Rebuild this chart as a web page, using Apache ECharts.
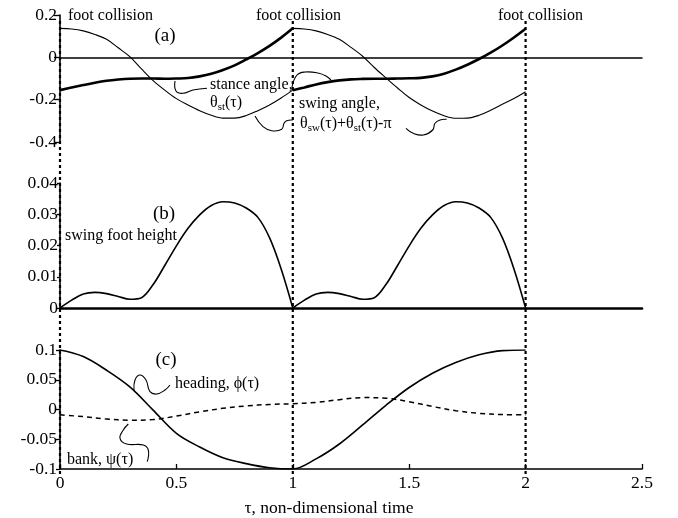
<!DOCTYPE html>
<html>
<head>
<meta charset="utf-8">
<script src="https://cdn.jsdelivr.net/npm/echarts@6/dist/echarts.min.js"></script>
<style>html,body{margin:0;padding:0;background:#fff}#c{width:678px;height:518px}</style>
</head>
<body>
<div id="c"></div>
<script>
// ---- data ----
const tau1 = [0,0.05,0.1,0.15,0.2,0.25,0.3,0.35,0.4,0.45,0.5,0.55,0.6,0.65,0.7,0.75,0.8,0.85,0.9,0.95,1.0];
const tau2 = [1,1.05,1.1,1.15,1.2,1.25,1.3,1.35,1.4,1.45,1.5,1.55,1.6,1.65,1.7,1.75,1.8,1.85,1.9,1.95,2.0];
// (a) stance angle (thick) and swing angle (thin), one array per step
const stance1 = [-0.155,-0.143,-0.131,-0.12,-0.111,-0.105,-0.101,-0.1,-0.1,-0.101,-0.1,-0.098,-0.09,-0.078,-0.06,-0.038,-0.01,0.02,0.054,0.093,0.137];
const stance2 = [-0.155,-0.142,-0.128,-0.117,-0.109,-0.104,-0.102,-0.101,-0.101,-0.1,-0.099,-0.097,-0.09,-0.077,-0.058,-0.035,-0.008,0.022,0.056,0.094,0.135];
const swing1  = [0.137,0.134,0.125,0.108,0.085,0.045,0.003,-0.055,-0.11,-0.155,-0.195,-0.225,-0.252,-0.274,-0.287,-0.287,-0.275,-0.252,-0.225,-0.192,-0.155];
const swing2  = [0.137,0.134,0.125,0.108,0.085,0.047,0.005,-0.048,-0.097,-0.145,-0.19,-0.225,-0.254,-0.276,-0.288,-0.287,-0.274,-0.25,-0.222,-0.195,-0.163];
// (b) swing foot height
const foot1 = [0,0.0025,0.0045,0.005,0.0046,0.0037,0.0028,0.0033,0.0075,0.0136,0.0199,0.0255,0.0298,0.0328,0.034,0.0336,0.032,0.029,0.0225,0.0125,0];
const foot2 = [0,0.0025,0.0045,0.005,0.0046,0.0037,0.0028,0.0033,0.0075,0.0136,0.0199,0.0255,0.0298,0.0328,0.034,0.0336,0.032,0.029,0.0225,0.0125,0];
// (c) heading and bank
const tauC = [0,0.1,0.2,0.3,0.4,0.5,0.6,0.7,0.8,0.9,1.0,1.1,1.2,1.3,1.4,1.5,1.6,1.7,1.8,1.9,2.0];
const heading = [0.1,0.089,0.066,0.038,-0.001,-0.04,-0.063,-0.081,-0.091,-0.098,-0.1,-0.083,-0.058,-0.026,0.007,0.037,0.061,0.079,0.092,0.099,0.1];
const bank = [-0.009,-0.012,-0.016,-0.018,-0.017,-0.011,-0.004,0.002,0.006,0.0085,0.0097,0.012,0.0165,0.02,0.019,0.013,0.005,-0.002,-0.0065,-0.0085,-0.009];
// foot collisions
const collisions = [0,1,2];
const collisionLabel = 'foot collision';
// tick labels
const xTicks = [0,0.5,1,1.5,2,2.5];
const yTicksA = [-0.4,-0.2,0,0.2];
const yTicksB = [0,0.01,0.02,0.03,0.04];
const yTicksC = [-0.1,-0.05,0,0.05,0.1];

const zip = (xs, ys) => xs.map((x,i)=>[x, ys[i]]);
const FF = '"Liberation Serif", "Times New Roman", serif';
const black = '#000';
const TICK_FS = 17.5;

const chart = echarts.init(document.getElementById('c'), null, {renderer:'canvas'});

const hiddenX = (gi, extra) => Object.assign({
  type:'value', gridIndex:gi, min:xTicks[0], max:xTicks[xTicks.length-1], interval:0.5,
  axisLabel:{show:false}, axisTick:{show:false}, splitLine:{show:false},
  axisLine:{show:false}
}, extra||{});
const fmtNum = v => (Math.round(v*1000)/1000).toString();
const yAx = (gi, ticks, tickLen, margin) => ({
  type:'value', gridIndex:gi, min:ticks[0], max:ticks[ticks.length-1], interval:ticks[1]-ticks[0],
  z:5,
  splitLine:{show:false},
  axisLine:{show:true, onZero:false, lineStyle:{color:black, width:1.6}},
  axisTick:{show:true, length:tickLen, lineStyle:{color:black, width:1.3}},
  axisLabel:{color:black, fontFamily:FF, fontSize:TICK_FS, margin:margin, formatter:fmtNum}
});

const lineSer = (name, xi, yi, data, width, type, z) => ({
  name, type:'line', xAxisIndex:xi, yAxisIndex:yi, data,
  showSymbol:false, symbol:'none', smooth:0.35, silent:true, z:z||3,
  lineStyle:{color:black, width:width, type:type||'solid'}
});

const option = {
  animation:false,
  backgroundColor:'#fff',
  grid:[
    {left:60, top:15, width:582, height:127},
    {left:60, top:183, width:582, height:125},
    {left:60, top:350, width:582, height:124},
    {left:60, top:18, width:582, height:456}
  ],
  xAxis:[
    hiddenX(0, {axisLine:{show:true, onZero:true, lineStyle:{color:black, width:1.5}}, z:4}),
    hiddenX(1, {axisLine:{show:true, onZero:false, lineStyle:{color:black, width:2.6}}, z:4}),
    {
      type:'value', gridIndex:2, min:xTicks[0], max:xTicks[xTicks.length-1], interval:0.5, z:4,
      splitLine:{show:false},
      axisLine:{show:true, onZero:false, lineStyle:{color:black, width:1.6}},
      axisTick:{show:true, inside:true, length:5, lineStyle:{color:black, width:1.3}},
      axisLabel:{color:black, fontFamily:FF, fontSize:TICK_FS, margin:5, formatter:fmtNum},
      name:'τ, non-dimensional time', nameLocation:'middle', nameGap:30,
      nameTextStyle:{color:black, fontFamily:FF, fontSize:17.5, padding:[0,44,0,0]}
    },
    hiddenX(3)
  ],
  yAxis:[
    yAx(0, yTicksA, 6, 3),
    yAx(1, yTicksB, 3, 2),
    yAx(2, yTicksC, 4, 3),
    {type:'value', gridIndex:3, min:0, max:1, show:false}
  ],
  series:[
    // collision markers (dotted verticals)
    ...collisions.map((t,i)=>({
      name:'collision '+t, type:'line', xAxisIndex:3, yAxisIndex:3,
      data:[[t,0],[t,1]], showSymbol:false, symbol:'none', silent:true, z:1,
      lineStyle:{color:black, width:2.2, type:[3,3]}
    })),
    lineSer('stance 1', 0, 0, zip(tau1, stance1), 2.6),
    lineSer('stance 2', 0, 0, zip(tau2, stance2), 2.6),
    lineSer('swing 1', 0, 0, zip(tau1, swing1), 1.1),
    lineSer('swing 2', 0, 0, zip(tau2, swing2), 1.1),
    lineSer('foot height 1', 1, 1, zip(tau1, foot1), 1.6),
    lineSer('foot height 2', 1, 1, zip(tau2, foot2), 1.6),
    lineSer('heading', 2, 2, zip(tauC, heading), 1.6),
    lineSer('bank', 2, 2, zip(tauC, bank), 1.5, [5,4])
  ],
  graphic:[]
};

const txt = (x, y, text, size, extra) => ({
  type:'text', x, y, silent:true, z:10,
  style:Object.assign({text, fill:black, font: size+'px '+FF, textVerticalAlign:'middle', textAlign:'left'}, extra||{})
});
const rich = {
  m:{fontFamily:FF, fontSize:16, color:black, lineHeight:20, verticalAlign:'middle'},
  s:{fontFamily:FF, fontSize:11, color:black, lineHeight:20, verticalAlign:'bottom', padding:[6,0,0,0]}
};
const richTxt = (x, y, text) => ({
  type:'text', x, y, silent:true, z:10,
  style:{text, rich, fill:black, font:'16px '+FF, textVerticalAlign:'middle', textAlign:'left'}
});
const squiggle = pts => ({
  type:'polyline', silent:true, z:10,
  shape:{points:pts, smooth:0.45},
  style:{stroke:black, fill:null, lineWidth:1.1}
});

option.graphic = [
  txt(68, 15.5, collisionLabel, 16),
  txt(256, 15.5, collisionLabel, 16),
  txt(498, 15.5, collisionLabel, 16),
  txt(165, 36, '(a)', 19, {textAlign:'center'}),
  txt(164, 214, '(b)', 19, {textAlign:'center'}),
  txt(166, 360, '(c)', 19, {textAlign:'center'}),
  txt(210, 85, 'stance angle,', 16),
  richTxt(210, 103, '{m|θ}{s|st}{m|(τ)}'),
  txt(299, 104, 'swing angle,', 16),
  richTxt(300, 124, '{m|θ}{s|sw}{m|(τ)+θ}{s|st}{m|(τ)-π}'),
  txt(65, 236, 'swing foot height', 16),
  txt(175, 384, 'heading, ϕ(τ)', 16),
  txt(67, 460, 'bank, ψ(τ)', 16),
  squiggle([[175,81],[176,91],[183,93.3],[193,90],[207,88.3]]),
  squiggle([[292,87],[297,75],[305,72],[318,73],[326,76],[331,80]]),
  squiggle([[255,116],[263,126.7],[271.7,130.7],[281.7,129.3],[284,123.3],[286.7,120.7],[292.7,120]]),
  squiggle([[406,128.3],[413.3,133.3],[423.3,135],[432.7,130],[435,123.3],[440,120],[446.7,119.3]]),
  squiggle([[134,390],[135,380],[140,375],[146,380],[150,391.7],[156.7,394],[165,390],[170,385]]),
  squiggle([[128.3,424],[123.3,430],[120,438.3],[126.7,444],[143.3,445],[148.3,450],[147.3,461.7]])
];

chart.setOption(option);
</script>
</body>
</html>
